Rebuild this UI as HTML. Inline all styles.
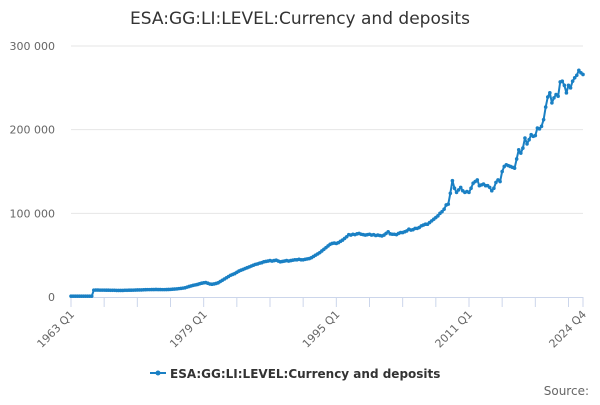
<!DOCTYPE html>
<html><head><meta charset="utf-8"><style>
body{margin:0;background:#fff;font-family:"Liberation Sans","DejaVu Sans",sans-serif;}
svg text{font-family:"DejaVu Sans","Liberation Sans",sans-serif;}
</style></head><body>
<svg id="chart" width="600" height="400" xmlns="http://www.w3.org/2000/svg">
<rect width="600" height="400" fill="#fff"/>
<text x="300" y="24" text-anchor="middle" font-size="17" fill="#333">ESA:GG:LI:LEVEL:Currency and deposits</text>
<g id="grid"></g><g id="yaxis"></g><g id="xaxis"></g><g id="series"></g>
<g>
<line x1="150" y1="373" x2="166" y2="373" stroke="#1a80c4" stroke-width="2"/>
<circle cx="158" cy="373" r="2.5" fill="#1a80c4"/>
<text x="170" y="378" font-size="12" font-weight="bold" fill="#333">ESA:GG:LI:LEVEL:Currency and deposits</text>
</g>
<text x="589" y="395" text-anchor="end" font-size="12" fill="#666">Source:</text>
</svg>
<script>
const startYear = 1963;
const yTicks = [0, 100000, 200000, 300000];
const yTickLabels = ["0", "100 000", "200 000", "300 000"];
const xLabelQuarters = [0, 64, 128, 192, 247];
const xLabels = ["1963 Q1", "1979 Q1", "1995 Q1", "2011 Q1", "2024 Q4"];
const valuesK = [
1,1,1,1, 1,1,1,1, 1,1,1,8.2, 8.3,8.3,8.2,8.2, 8.2,8.1,8.1,8.0, 8.0,8.0,7.9,7.9,
7.9,7.9,8.0,8.0, 8.1,8.1,8.2,8.3, 8.4,8.5,8.5,8.6, 8.7,8.8,8.8,8.9, 8.9,9.0,8.9,8.9,
8.8,8.8,8.9,9.0, 9.1,9.3,9.5,9.7, 10.0,10.3,10.6,11.0, 11.8,12.6,13.3,14.0, 14.5,15.0,15.8,16.5,
17.0,17.2,16.5,15.5, 15.3,15.6,16.2,17.0, 18.5,20.0,21.5,23.0, 24.5,26.0,27.0,28.0, 29.5,31.0,32.0,33.0,
34.0,35.0,36.0,37.0, 38.0,39.0,39.5,40.5, 41.0,42.0,42.5,43.0, 43.5,43.0,43.5,44.0, 43.0,42.0,42.5,43.0,
43.5,43.0,43.5,44.0, 44.5,44.5,45.0,44.5, 44.5,45,45.5,46, 47,48.5,50,51.5, 53,55,57,59,
61,63,64,64.5, 64,65,66.5,68, 70,72,74.5,74, 75,74.5,75.5,76, 75,74.5,74,74.5,
75,74,74.5,73.5, 74,73.5,73,74, 76,78,75.5,75, 75,74.5,76,77, 77,78,79,81,
80,80.5,82,82, 83,85,86,87, 87,89,91,93, 95,97,100,102, 105,110,111,124,
139,130,125,128, 131,127,125,126, 125,130,136,138, 140,133,134,135, 133,133,131,127,
130,137,140,138, 150,156,158,157, 156,155,154,165, 176,172,178,190, 183,188,194,192,
193,202,201,204, 212,227,239,244, 232,238,242,240, 257,258,253,244, 253,250,258,262,
265,271,268,266
];
const NS="http://www.w3.org/2000/svg";
const X0=71,X1=583,Y0=297,Y1=46,YMAX=300000;
const nQ=valuesK.length;
const xs=q=>X0+(X1-X0)*q/(nQ-1);
const ys=v=>Y0-(Y0-Y1)*v/YMAX;
function mk(t,a,p){const e=document.createElementNS(NS,t);for(const k in a)e.setAttribute(k,a[k]);p.appendChild(e);return e;}
const grid=document.getElementById('grid'),ya=document.getElementById('yaxis'),xa=document.getElementById('xaxis'),se=document.getElementById('series');
yTicks.forEach((v,i)=>{
  if(v>0){const g=mk('line',{x1:X0,x2:X1,y1:ys(v),y2:ys(v),stroke:'#e6e6e6'},grid);
  
  }
  const t=mk('text',{x:55,y:ys(v)+4,'text-anchor':'end','font-size':11,fill:'#666'},ya);
  t.textContent=yTickLabels[i];
  
  
});
const ax=mk('line',{x1:X0,x2:X1,y1:Y0+0.5,y2:Y0+0.5,stroke:'#ccd6eb'},xa);


for(let q=0;q<nQ;q+=16){const tk=mk('line',{x1:xs(q),x2:xs(q),y1:Y0,y2:Y0+10,stroke:'#ccd6eb'},xa);

}
const tkl=mk('line',{x1:xs(nQ-1),x2:xs(nQ-1),y1:Y0,y2:Y0+10,stroke:'#ccd6eb'},xa);


xLabelQuarters.forEach((q,i)=>{
  const x=xs(q),y=Y0+14;
  const t=mk('text',{x:x+4,y:y+4,'text-anchor':'end','font-size':11,fill:'#666',transform:`rotate(-45 ${x+4} ${y+4})`},xa);
  t.textContent=xLabels[i];
  
  
});
const d=valuesK.map((v,q)=>(q?'L':'M')+xs(q).toFixed(2)+' '+ys(v*1000).toFixed(2)).join(' ');
const p=mk('path',{d:d,fill:'none',stroke:'#1a80c4','stroke-width':2,'stroke-linejoin':'round'},se);


valuesK.forEach((v,q)=>{
  const c=mk('circle',{cx:xs(q),cy:ys(v*1000),r:1.8,fill:'#1a80c4'},se);
  
  
});
</script>
</body></html>
